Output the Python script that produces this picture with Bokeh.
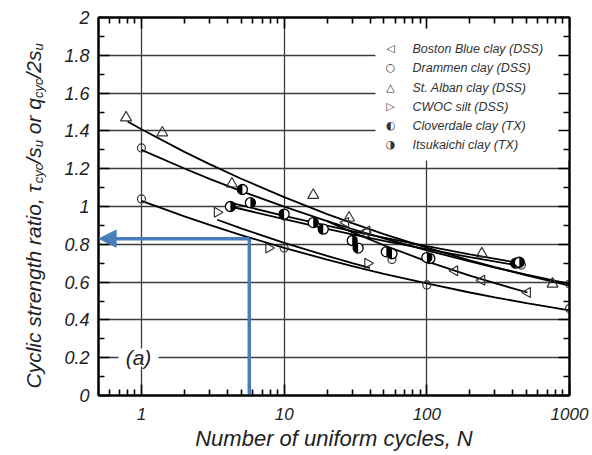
from math import pi
from bokeh.plotting import figure
from bokeh.layouts import row
from bokeh.models import (Range1d, FixedTicker, LinearAxis, LogAxis, Label,
                          BoxAnnotation, Arrow, NormalHead)
from bokeh.embed import file_html
from bokeh.resources import INLINE

# ---------------- data ----------------
x_ticks = [1, 10, 100, 1000]
x_tick_labels = ["1", "10", "100", "1000"]
x_minor = [0.6, 0.7, 0.8, 0.9, 2, 3, 4, 5, 6, 7, 8, 9,
           20, 30, 40, 50, 60, 70, 80, 90, 200, 300, 400, 500, 600, 700, 800, 900]
y_ticks = [0, 0.2, 0.4, 0.6, 0.8, 1.0, 1.2, 1.4, 1.6, 1.8, 2.0]
y_tick_labels = ["0", "0.2", "0.4", "0.6", "0.8", "1", "1.2", "1.4", "1.6", "1.8", "2"]
y_minor = [0.1, 0.3, 0.5, 0.7, 0.9, 1.1, 1.3, 1.5, 1.7, 1.9]

series_names = ["Boston Blue clay (DSS)", "Drammen clay (DSS)", "St. Alban clay (DSS)",
                "CWOC silt (DSS)", "Cloverdale clay (TX)", "Itsukaichi clay (TX)"]

boston_N = [27, 38, 157, 243, 508]
boston_r = [0.915, 0.87, 0.66, 0.61, 0.545]
drammen_N = [1, 1, 10, 10, 38, 57, 100, 460, 1000, 1000]
drammen_r = [1.31, 1.04, 0.95, 0.78, 0.86, 0.72, 0.585, 0.69, 0.59, 0.46]
stalban_N = [0.78, 1.4, 4.3, 16, 28.5, 243, 760]
stalban_r = [1.47, 1.39, 1.12, 1.06, 0.94, 0.75, 0.59]
cwoc_N = [3.4, 7.8, 38.5]
cwoc_r = [0.97, 0.78, 0.70]
cloverdale_N = [5.1, 10, 18.8, 33, 57, 105, 420]
cloverdale_r = [1.09, 0.96, 0.88, 0.78, 0.75, 0.725, 0.70]
itsukaichi_N = [4.2, 5.8, 16, 30, 52, 100, 445]
itsukaichi_r = [1.00, 1.02, 0.915, 0.82, 0.76, 0.73, 0.705]

# fitted curves
curve_stalban_N = [0.8, 1, 2, 3, 5, 10, 20, 30, 50, 100, 200, 300, 500, 1000]
curve_stalban_r = [1.45, 1.409, 1.289, 1.224, 1.147, 1.050, 0.960, 0.912, 0.854, 0.782, 0.715, 0.679, 0.636, 0.582]
curve_drammen_hi_N = [1, 2, 3, 5, 10, 20, 30, 50, 100, 200, 300, 500, 1000]
curve_drammen_hi_r = [1.30, 1.201, 1.146, 1.081, 0.999, 0.923, 0.881, 0.831, 0.768, 0.709, 0.677, 0.639, 0.590]
curve_drammen_lo_N = [1, 2, 3, 5, 10, 20, 30, 50, 100, 200, 300, 500, 1000]
curve_drammen_lo_r = [1.03, 0.948, 0.903, 0.849, 0.781, 0.719, 0.685, 0.644, 0.593, 0.545, 0.519, 0.489, 0.450]
curve_boston_N = [20, 30, 50, 100, 200, 300, 508]
curve_boston_r = [0.923, 0.864, 0.795, 0.710, 0.634, 0.594, 0.545]
curve_tx1_N = [4.2, 10, 20, 30, 50, 100, 200, 450]
curve_tx1_r = [1.02, 0.951, 0.899, 0.870, 0.835, 0.790, 0.747, 0.700]
curve_tx2_N = [4.2, 10, 20, 30, 50, 100, 200, 450]
curve_tx2_r = [1.00, 0.933, 0.882, 0.853, 0.818, 0.774, 0.732, 0.686]
curve_cwoc_N = [3.4, 5, 10, 20, 30, 40]
curve_cwoc_r = [0.93, 0.884, 0.808, 0.739, 0.701, 0.675]

design_N = 5.7
design_ratio = 0.83

# ---------------- figure ----------------
FONT = "Liberation Sans"
INK = "#222222"
BLUE = "#4a7ebb"
STRIP_W = 50

p = figure(width=592 - STRIP_W, height=455, x_axis_type="log",
           x_range=Range1d(0.5, 1000), y_range=Range1d(0, 2),
           output_backend="svg", toolbar_location=None,
           min_border_left=98 - STRIP_W, min_border_right=23, min_border_top=17,
           min_border_bottom=60)
p.background_fill_color = "white"
p.border_fill_color = "white"
p.outline_line_color = "black"
p.outline_line_width = 2

xt = FixedTicker(ticks=x_ticks, minor_ticks=x_minor)
yt = FixedTicker(ticks=y_ticks, minor_ticks=y_minor)


def style_axis(ax, show_labels):
    ax.axis_line_color = "black"
    ax.axis_line_width = 2
    ax.major_tick_in = 11
    ax.major_tick_out = 0
    ax.minor_tick_in = 6
    ax.minor_tick_out = 0
    ax.major_tick_line_color = "black"
    ax.major_tick_line_width = 1.6
    ax.minor_tick_line_color = "black"
    ax.minor_tick_line_width = 1.6
    if not show_labels:
        ax.major_label_text_color = None


xa = p.xaxis[0]
xa.ticker = xt
xa.major_label_overrides = dict(zip(x_ticks, x_tick_labels))
style_axis(xa, True)
xa.major_label_text_font = FONT
xa.major_label_text_font_style = "italic"
xa.major_label_text_font_size = "17px"
xa.major_label_text_color = INK
xa.major_label_standoff = 12
xa.axis_label = "Number of uniform cycles, N"
xa.axis_label_text_font = FONT
xa.axis_label_text_font_style = "italic"
xa.axis_label_text_font_size = "22px"
xa.axis_label_text_color = INK
xa.axis_label_standoff = 3

ya = p.yaxis[0]
ya.ticker = yt
ya.major_label_overrides = dict(zip(y_ticks, y_tick_labels))
style_axis(ya, True)
ya.major_label_text_font = FONT
ya.major_label_text_font_style = "italic"
ya.major_label_text_font_size = "18px"
ya.major_label_text_color = INK
ya.major_label_standoff = 9

top_ax = LogAxis(ticker=FixedTicker(ticks=x_ticks, minor_ticks=x_minor))
style_axis(top_ax, False)
p.add_layout(top_ax, "above")
right_ax = LinearAxis(ticker=FixedTicker(ticks=y_ticks, minor_ticks=y_minor))
style_axis(right_ax, False)
p.add_layout(right_ax, "right")

p.xgrid.ticker = FixedTicker(ticks=x_ticks[:-1])
p.ygrid.ticker = FixedTicker(ticks=y_ticks[1:-1])
for g in (p.xgrid[0], p.ygrid[0]):
    g.grid_line_color = "#3c3c3c"
    g.grid_line_width = 1.3

# white areas behind legend and "(a)"
p.add_layout(BoxAnnotation(left=277, right=471, bottom=235, top=378,
                           left_units="screen", right_units="screen",
                           top_units="screen", bottom_units="screen",
                           fill_color="white", fill_alpha=1, line_color=None,
                           level="underlay"))
p.add_layout(BoxAnnotation(left=20, right=60, bottom=29, top=47,
                           left_units="screen", right_units="screen",
                           top_units="screen", bottom_units="screen",
                           fill_color="white", fill_alpha=1, line_color=None,
                           level="underlay"))

# curves
for cx, cy in [(curve_stalban_N, curve_stalban_r), (curve_drammen_hi_N, curve_drammen_hi_r),
               (curve_drammen_lo_N, curve_drammen_lo_r), (curve_boston_N, curve_boston_r),
               (curve_tx1_N, curve_tx1_r), (curve_tx2_N, curve_tx2_r),
               (curve_cwoc_N, curve_cwoc_r)]:
    p.line(cx, cy, line_color="black", line_width=1.8)

# markers
MK = "#333333"
p.scatter(boston_N, boston_r, marker="triangle", angle=pi / 2, size=10,
          fill_color=None, line_color=MK, line_width=1.2)
p.scatter(drammen_N, drammen_r, marker="circle", size=8,
          fill_color=None, line_color=MK, line_width=1.2)
p.scatter(stalban_N, stalban_r, marker="triangle", size=11,
          fill_color=None, line_color=MK, line_width=1.2)
p.scatter(cwoc_N, cwoc_r, marker="triangle", angle=-pi / 2, size=10,
          fill_color=None, line_color=MK, line_width=1.2)
p.scatter(cloverdale_N, cloverdale_r, marker="circle", size=10,
          fill_color="white", line_color="black", line_width=1.3)
p.wedge(cloverdale_N, cloverdale_r, radius=5, radius_units="screen",
        start_angle=pi / 2, end_angle=3 * pi / 2, fill_color="black", line_color=None)
p.scatter(itsukaichi_N, itsukaichi_r, marker="circle", size=10,
          fill_color="white", line_color="black", line_width=1.3)
p.wedge(itsukaichi_N, itsukaichi_r, radius=5, radius_units="screen",
        start_angle=-pi / 2, end_angle=pi / 2, fill_color="black", line_color=None)

# design arrow
p.line([design_N, design_N], [0, design_ratio], line_color=BLUE, line_width=3.5)
p.add_layout(Arrow(x_start=design_N, y_start=design_ratio, x_end=0.505, y_end=design_ratio,
                   line_color=BLUE, line_width=3.5,
                   end=NormalHead(size=17, fill_color=BLUE, line_color=BLUE)))

# legend (manual)
legend_symbols = ["\u25C1", "\u25CB", "\u25B3", "\u25B7", "\u25D0", "\u25D1"]
row_y = [347, 328, 308, 289, 270, 251]
for sym, name, yy in zip(legend_symbols, series_names, row_y):
    p.add_layout(Label(x=292, y=yy, x_units="screen", y_units="screen", text=sym,
                       text_font="DejaVu Sans", text_font_size="11px", text_color="#333333",
                       text_align="center", text_baseline="middle"))
    p.add_layout(Label(x=314, y=yy, x_units="screen", y_units="screen", text=name,
                       text_font=FONT, text_font_style="italic", text_font_size="12.5px",
                       text_color="#333333", text_align="left", text_baseline="middle"))

# panel tag
p.add_layout(Label(x=40, y=38, x_units="screen", y_units="screen", text="(a)",
                   text_font=FONT, text_font_style="italic", text_font_size="21px",
                   text_color=INK, text_align="center", text_baseline="middle"))

# ---------------- y-axis title strip (rotated text with subscripts) ----------------
# (its frame is aligned with the main frame by the row layout: y=0 is the axis at 0)
t = figure(width=STRIP_W, height=455, x_range=Range1d(0, 1), y_range=Range1d(0, 1),
           output_backend="svg", toolbar_location=None,
           x_axis_type=None, y_axis_type=None, min_border=0)
t.outline_line_color = None
t.grid.visible = False
t.background_fill_color = "white"
t.border_fill_color = "white"

W = {'C': 722, 'y': 500, 'c': 500, 'l': 222, 'i': 222, ' ': 278, 's': 500, 't': 278,
     'r': 333, 'e': 556, 'n': 556, 'g': 556, 'h': 556, 'a': 556, 'o': 556, ',': 278,
     '\u03C4': 440, '/': 278, 'u': 556, 'q': 556, '2': 556}


def tw(s, size):
    return sum(W.get(ch, 556) for ch in s) * size / 1000.0


ylab_parts = [("Cyclic strength ratio, \u03C4", False), ("cyc", True), ("/s", False),
              ("u", True), (" or q", False), ("cyc", True), ("/2s", False), ("u", True)]
pos = 7.0
base_x = 33
for txt, sub in ylab_parts:
    size = 13 if sub else 21
    lead = len(txt) - len(txt.lstrip(" "))
    pos += tw(" " * lead, size)
    body = txt.lstrip(" ")
    t.add_layout(Label(x=base_x + (5 if sub else 0), y=pos, x_units="screen", y_units="screen",
                       text=body, angle=pi / 2, text_font=FONT, text_font_style="italic",
                       text_font_size=f"{size}px", text_color=INK,
                       text_align="left", text_baseline="alphabetic"))
    pos += tw(body, size)

layout = row(t, p)
open("out.html", "w").write(file_html(layout, INLINE))
